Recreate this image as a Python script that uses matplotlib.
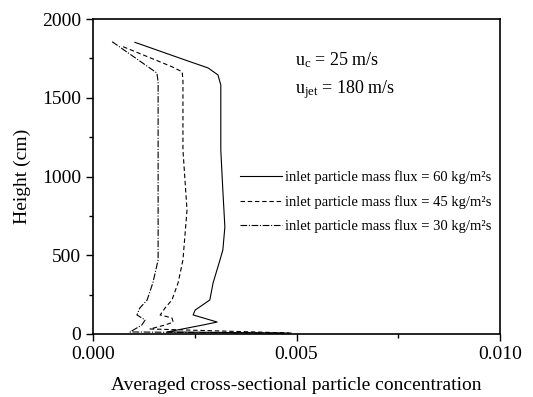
import numpy as np
import matplotlib
matplotlib.use('Agg')
import matplotlib.pyplot as plt

plt.rcParams['font.family'] = ['Liberation Serif', 'DejaVu Serif']
plt.rcParams['mathtext.fontset'] = 'custom'
plt.rcParams['mathtext.rm'] = 'Liberation Serif'
plt.rcParams['mathtext.it'] = 'Liberation Serif:italic'

# concentration / height profiles for the three inlet mass fluxes
conc_60 = [0.00103, 0.00226, 0.00283, 0.00307, 0.00314, 0.00314, 0.00319, 0.00324,
           0.00319, 0.00312, 0.00295, 0.00287, 0.00251, 0.00246, 0.00305, 0.00270,
           0.00206, 0.00182, 0.00480, 0.00480]
height_60 = [1852, 1740, 1689, 1645, 1581, 1168, 914, 679,
             533, 470, 324, 216, 152, 121, 76, 57,
             25, 13, 6, 0]

conc_45 = [0.00074, 0.00194, 0.00219, 0.00221, 0.00221, 0.00231, 0.00221, 0.00209,
           0.00194, 0.00177, 0.00165, 0.00194, 0.00197, 0.00177, 0.00140, 0.00490,
           0.00490]
height_45 = [1824, 1697, 1665, 1613, 1168, 787, 470, 324,
             216, 165, 121, 102, 76, 57, 32, 6,
             0]

conc_30 = [0.00047, 0.00135, 0.00157, 0.00160, 0.00160, 0.00160, 0.00147, 0.00133,
           0.00115, 0.00108, 0.00128, 0.00120, 0.00091, 0.00470, 0.00470]
height_30 = [1856, 1697, 1657, 1600, 895, 470, 324, 216,
             165, 121, 89, 57, 13, 5, 0]

labels = ['inlet particle mass flux = 60 kg/m\u00b2s',
          'inlet particle mass flux = 45 kg/m\u00b2s',
          'inlet particle mass flux = 30 kg/m\u00b2s']

fig = plt.figure(figsize=(5.33, 3.97), dpi=100)
ax = fig.add_axes([93/533, 1-334/397, 407/533, 315/397])

ax.plot(conc_60, height_60, color='k', lw=0.8, ls='-', label=labels[0])
ax.plot(conc_45, height_45, color='k', lw=0.8, ls=(0, (4, 2.5)), label=labels[1])
ax.plot(conc_30, height_30, color='k', lw=0.8, ls=(0, (6, 1.5, 1, 1.5)), label=labels[2])

ax.set_xlim(0, 0.01)
ax.set_ylim(0, 2000)
ax.set_xticks([0, 0.005, 0.01])
ax.set_xticklabels(['0.000', '0.005', '0.010'])
ax.set_xticks([0.0025, 0.0075], minor=True)
ax.set_yticks([0, 500, 1000, 1500, 2000])
ax.set_yticks([250, 750, 1250, 1750], minor=True)
ax.tick_params(which='both', direction='out', top=False, right=False,
               labelsize=14, width=1)
ax.tick_params(which='major', length=5)
ax.tick_params(which='minor', length=3)
for s in ax.spines.values():
    s.set_linewidth(1.2)

ax.set_xlabel('Averaged cross-sectional particle concentration', fontsize=14, labelpad=10)
ax.set_ylabel('Height (cm)', fontsize=14, labelpad=8)

ax.text(0.00496, 1740, r'u$_\mathrm{c}$ = 25 m/s', fontsize=13, va='center')
ax.text(0.00496, 1550, r'u$_\mathrm{jet}$ = 180 m/s', fontsize=13, va='center')

ax.legend(loc='upper left', bbox_to_anchor=(0.361, 0.52), frameon=False,
          fontsize=10.5, handlelength=2.9, handletextpad=0.2, labelspacing=0.75,
          borderaxespad=0, borderpad=0)

plt.savefig('out.png', dpi=100)
